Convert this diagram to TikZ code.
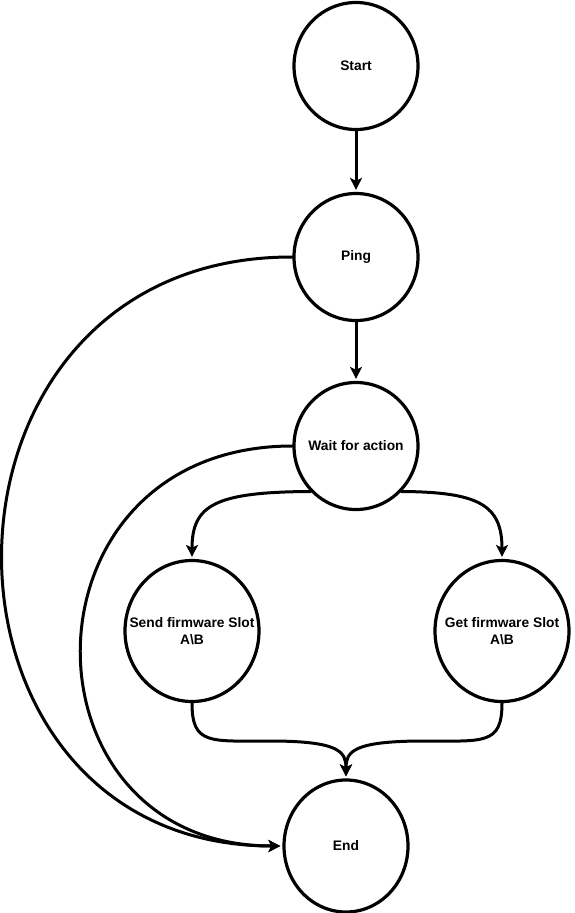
\documentclass[tikz,border=0pt]{standalone}
\usepackage{fontspec}
\setmainfont{Liberation Sans}
\usetikzlibrary{shapes.geometric,arrows.meta}
\begin{document}
\begin{tikzpicture}[x=1pt,y=-1pt,
  state/.style={ellipse,draw,line width=3.2pt,inner sep=0pt,
    minimum width=124pt,minimum height=127pt},
  caption/.style={align=center,inner sep=0pt,
    font=\fontsize{13.8}{17}\selectfont\bfseries},
  flow/.style={draw,line width=3pt,line cap=round,
    -{Stealth[length=12pt,width=12pt,inset=3pt]},shorten >=2pt}]
\useasboundingbox (0,0) rectangle (574,913);

% states: fixed-size outlines, captions laid on top
\node[state] (start) at (356,66) {};
\node[state] (ping)  at (356,257) {};
\node[state] (wait)  at (356,446) {};
\node[state,minimum width=134pt,minimum height=141pt] (send) at (192,631) {};
\node[state,minimum width=134pt,minimum height=141pt] (get)  at (502,631) {};
\node[state,minimum height=132pt] (end) at (346,846) {};

\node[caption] (startT) at (start.center) {Start};
\node[caption] (pingT)  at (ping.center)  {Ping};
\node[caption] (waitT)  at (wait.center)  {Wait for action};
\node[caption] (sendT)  at (send.center)  {Send firmware Slot\\A\textbackslash B};
\node[caption] (getT)   at (get.center)   {Get firmware Slot\\A\textbackslash B};
\node[caption] (endT)   at (end.center)   {End};

% transitions
\draw[flow] (start.south) -- (ping.north);
\draw[flow] (ping.south) -- (wait.north);
\draw[flow] (ping.west) .. controls (-92,256) and (-92,846) .. (end.west);
\draw[flow] (wait.west) .. controls (13,446) and (13,846) .. (end.west);
\draw[flow] (wait.225) .. controls (215,492) and (192,505) .. (send.north);
\draw[flow] (wait.315) .. controls (479,492) and (502,505) .. (get.north);
\draw[flow] (send.south) .. controls (192,745) and (210,741) .. (270,741)
  .. controls (340,741) and (346,752) .. (end.north);
\draw[flow] (get.south) .. controls (502,745) and (484,741) .. (424,741)
  .. controls (352,741) and (346,752) .. (end.north);
\end{tikzpicture}
\end{document}
